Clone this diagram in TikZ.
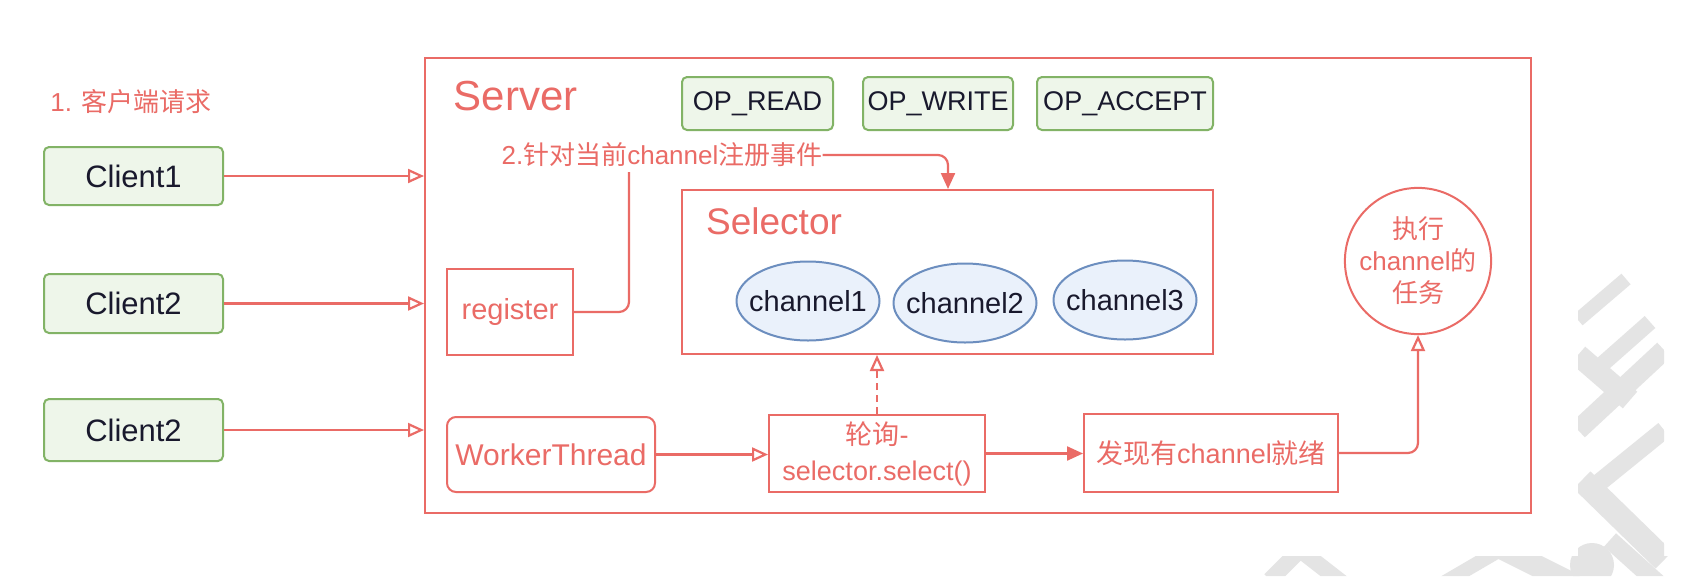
\documentclass[tikz,border=0pt]{standalone}
\usepackage{fontspec}
\setmainfont{Liberation Sans}
\newfontfamily\cjk{Noto Sans CJK SC}
\usetikzlibrary{arrows.meta,shapes.geometric}
\definecolor{rd}{RGB}{234,107,102}
\definecolor{gr}{RGB}{130,179,102}
\definecolor{grf}{RGB}{238,246,234}
\definecolor{bl}{RGB}{108,142,191}
\definecolor{blf}{RGB}{234,241,251}
\definecolor{wm}{RGB}{228,228,228}
\definecolor{ink}{RGB}{25,25,45}
\begin{document}
\begin{tikzpicture}[x=1pt,y=-1pt,
  redbox/.style={draw=rd, line width=2pt, text=rd, inner sep=0pt, rectangle},
  greenbox/.style={draw=gr, line width=2pt, fill=grf, text=ink, rounded corners=5pt, inner sep=0pt},
  chan/.style={ellipse, draw=bl, line width=2pt, fill=blf, text=ink, inner xsep=-10pt, inner ysep=17pt, minimum width=143pt, minimum height=79pt, font=\fontsize{29}{34}\selectfont},
  conn/.style={draw=rd, line width=2.2pt},
  oa/.style={-{Triangle[open,length=16pt 0,width=14pt 0]}},
  fa/.style={-{Triangle[length=16pt 0,width=14pt 0]}},
  lbl/.style={text=rd, inner sep=0pt},
]
\fill[white] (0,0) rectangle (1688,576);
\useasboundingbox (0,0) rectangle (1688,576);

% watermark
\begin{scope}
\clip (1578,0) rectangle (1664,576) (0,556) rectangle (1688,576);
\draw[wm, line width=14pt] (1626,279) -- (1578,320);
\draw[wm, line width=16pt] (1650,322) -- (1590,375);
\draw[wm, line width=22pt] (1578,355) -- (1630,400);
\draw[wm, line width=20pt] (1664,350) -- (1578,430);
\draw[wm, line width=18pt] (1664,430) -- (1590,490);
\draw[wm, line width=24pt] (1582,480) -- (1664,560);
\fill[wm] (1592,565) circle (22);
\draw[wm, line width=16pt] (1300,550) -- (1270,580);
\draw[wm, line width=16pt] (1300,550) -- (1345,585);
\draw[wm, line width=14pt] (1500,550) -- (1440,585);
\draw[wm, line width=22pt] (1495,545) -- (1575,585);
\draw[wm, line width=18pt] (1610,540) -- (1660,585);
\end{scope}

% clients
\node[lbl, font=\fontsize{26}{31}\selectfont] (req) at (131,102) {1. {\cjk 客户端请求}};
\node[greenbox, minimum width=179pt, minimum height=58pt, font=\fontsize{31}{37}\selectfont] (c1) at (133.5,176) {Client1};
\node[greenbox, minimum width=179pt, minimum height=59pt, font=\fontsize{31}{37}\selectfont] (c2) at (133.5,303.5) {Client2};
\node[greenbox, minimum width=179pt, minimum height=62pt, font=\fontsize{31}{37}\selectfont] (c3) at (133.5,430) {Client2};

% server
\node[redbox, minimum width=1106pt, minimum height=455pt] (server) at (978,285.5) {};
\node[lbl, font=\fontsize{42}{50}\selectfont] (srvlbl) at (515.5,96) {Server};

\node[greenbox, minimum width=151pt, minimum height=53pt, font=\fontsize{27}{32}\selectfont] (opr) at (757.5,103.5) {OP\_READ};
\node[greenbox, minimum width=150pt, minimum height=53pt, font=\fontsize{27}{32}\selectfont] (opw) at (938,103.5) {OP\_WRITE};
\node[greenbox, minimum width=176pt, minimum height=53pt, font=\fontsize{27}{32}\selectfont] (opa) at (1125,103.5) {OP\_ACCEPT};

\node[lbl, font=\fontsize{26}{31}\selectfont] (t2) at (662,155) {2.{\cjk 针对当前}channel{\cjk 注册事件}};

% selector
\node[redbox, minimum width=531pt, minimum height=164pt] (selbox) at (947.5,272) {};
\node[lbl, anchor=west, font=\fontsize{37}{44}\selectfont] (sellbl) at (706,221) {Selector};
\node[chan] (ch1) at (808,301) {channel1};
\node[chan] (ch2) at (965,303) {channel2};
\node[chan] (ch3) at (1125,300) {channel3};

% register
\node[redbox, minimum width=126pt, minimum height=86pt, font=\fontsize{29}{34}\selectfont] (reg) at (510,312) {register};

% bottom row
\node[redbox, rounded corners=9pt, minimum width=208pt, minimum height=75pt, font=\fontsize{30}{36}\selectfont] (wt) at (551,454.5) {WorkerThread};
\node[redbox, minimum width=216pt, minimum height=77pt, align=center, font=\fontsize{27}{36}\selectfont] (poll) at (877,453.5) {{\cjk 轮询}-\\selector.select()};
\node[redbox, minimum width=254pt, minimum height=78pt, font=\fontsize{27}{32}\selectfont] (ready) at (1211,453) {{\cjk 发现有}channel{\cjk 就绪}};
\node[circle, draw=rd, line width=2pt, text=rd, minimum size=146pt, inner sep=0pt, align=center, font=\fontsize{26}{32}\selectfont] (task) at (1418,261) {{\cjk 执行}\\channel{\cjk 的}\\{\cjk 任务}};

% connectors
\draw[conn,oa] (c1.east) -- (c1.east -| server.west);
\draw[conn,oa] (c2.east) -- (c2.east -| server.west);
\draw[conn,oa] (c3.east) -- (c3.east -| server.west);

\coordinate (regtop) at (629,172);
\draw[conn, rounded corners=10pt] (reg.east) -| (regtop);

\coordinate (selin) at (948,0);
\draw[conn, fa, rounded corners=10pt] (t2.east) -| (selbox.north -| selin);

\draw[conn,oa] (wt.east) -- (wt.east -| poll.west);
\draw[conn,fa] (poll.east) -- (poll.east -| ready.west);
\draw[conn,oa,dashed,dash pattern=on 7pt off 5pt] (poll.north) -- (poll.north |- selbox.south);
\draw[conn,oa,rounded corners=10pt] (ready.east) -| (task.south);
\end{tikzpicture}
\end{document}
